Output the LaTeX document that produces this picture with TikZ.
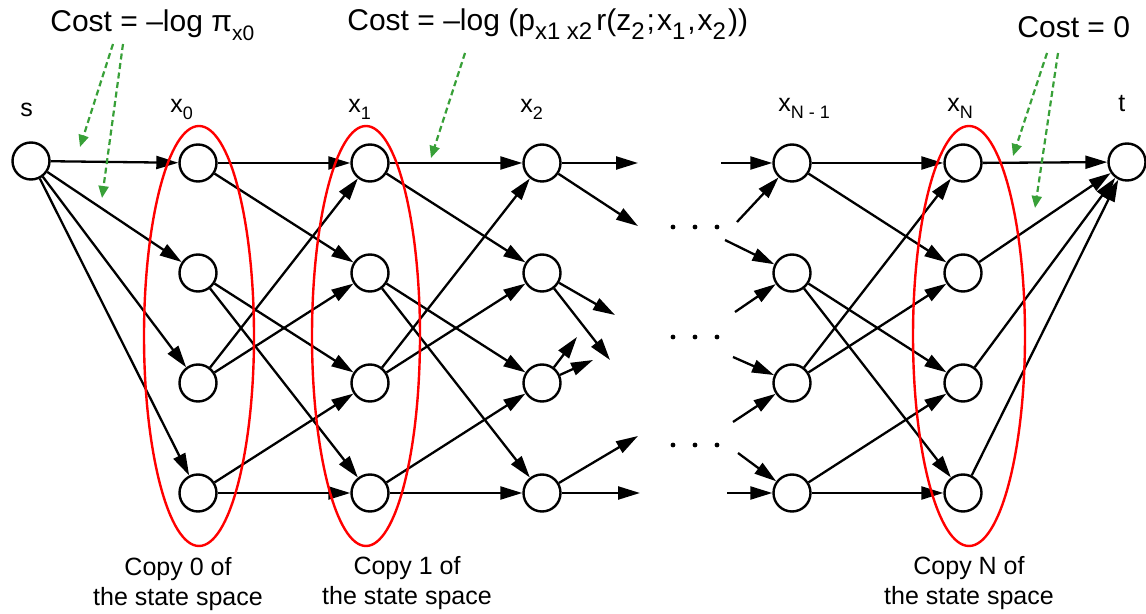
\documentclass[tikz,border=0pt]{standalone}
\usepackage{fontspec}
\setmainfont{Liberation Sans}
\usetikzlibrary{arrows.meta}
\definecolor{costgreen}{RGB}{56,160,56}
\definecolor{copyred}{RGB}{255,0,0}
% lowered, smaller text for indices
\newcommand\lo[2][9]{\raisebox{-0.28em}{\fontsize{#1}{#1}\selectfont #2}}

\begin{document}
\begin{tikzpicture}[x=0.5pt,y=-0.5pt,
  state/.style={circle, draw, line width=1.2pt, fill=white, minimum size=18.5pt, inner sep=0pt},
  edge/.style={line width=1.15pt, -{Triangle[length=11pt,width=6.5pt]}},
  copyset/.style={draw=copyred, line width=1.2pt},
  costarrow/.style={draw=costgreen, line width=1.1pt, dash pattern=on 3pt off 1.8pt,
                    -{Triangle[length=6pt,width=5pt,fill=costgreen]}},
  lbl/.style={font=\fontsize{12.5}{15}\selectfont, inner sep=0pt, anchor=base west},
  costlbl/.style={font=\fontsize{15}{18}\selectfont, inner sep=0pt, anchor=base west},
  copylbl/.style={font=\fontsize{12.5}{15}\selectfont, align=center, inner sep=0pt}
]
\useasboundingbox (0,0) rectangle (1146,614);

% states: source, copies of the state space, sink
\node[state] (s) at (31,161) {};
\foreach \col/\x in {a/198, b/370, c/542, d/792, e/963}
  \foreach \r/\y in {1/163, 2/273, 3/383, 4/493}
    \node[state] (\col\r) at (\x,\y) {};
\node[state] (t) at (1127,162) {};

% source to copy 0
\foreach \r in {1,...,4} \draw[edge] (s) -- (a\r);

% transitions between consecutive copies
\foreach \p/\q in {a/b, b/c, d/e} {
  \draw[edge] (\p1) -- (\q1);
  \draw[edge] (\p1) -- (\q2);
  \draw[edge] (\p2) -- (\q3);
  \draw[edge] (\p2) -- (\q4);
  \draw[edge] (\p3) -- (\q1);
  \draw[edge] (\p3) -- (\q2);
  \draw[edge] (\p4) -- (\q3);
  \draw[edge] (\p4) -- (\q4);
}

% copy N to sink
\foreach \r in {1,...,4} \draw[edge] (e\r) -- (t);

% outgoing stubs from x2
\coordinate (o11) at (638,163);  \coordinate (o12) at (638,226);
\coordinate (o21) at (615,315);  \coordinate (o22) at (610,360);
\coordinate (o31) at (577,337);  \coordinate (o32) at (593,360);
\coordinate (o41) at (638,436);  \coordinate (o42) at (640,493);
\foreach \r in {1,...,4} {
  \draw[edge] (c\r) -- (o\r1);
  \draw[edge] (c\r) -- (o\r2);
}

% incoming stubs into x_{N-1}
\coordinate (i11) at (721,163);  \coordinate (i12) at (737,222);
\coordinate (i21) at (725,240);  \coordinate (i22) at (735,312);
\coordinate (i31) at (733,357);  \coordinate (i32) at (733,422);
\coordinate (i41) at (738,453);  \coordinate (i42) at (727,493);
\foreach \r in {1,...,4} {
  \draw[edge] (i\r1) -- (d\r);
  \draw[edge] (i\r2) -- (d\r);
}

% ellipsis dots
\foreach \y in {227, 337, 445}
  \foreach \x in {673, 695, 717}
    \fill (\x,\y) circle[radius=1.2pt];

% copies of the state space
\draw[copyset] (199,336) ellipse [x radius=27.5pt, y radius=105pt];
\draw[copyset] (366,336) ellipse [x radius=27pt, y radius=105pt];
\draw[copyset] (969,336) ellipse [x radius=28pt, y radius=105pt];

% state labels
\node[lbl] (ls) at (20,117) {s};
\node[lbl] (la) at (170,113) {x\lo{0}};
\node[lbl] (lb) at (348,113) {x\lo{1}};
\node[lbl] (lc) at (520,113) {x\lo{2}};
\node[lbl] (ld) at (778,112) {x\lo{N - 1}};
\node[lbl] (le) at (947,112) {x\lo{N}};
\node[lbl] (lt) at (1118,112) {t};

% arc costs
\node[costlbl] (c0) at (50,32) {Cost = –log π\lo[10.5]{x0}};
\node[costlbl] (c1) at (347,31) {Cost = –log (p\lo[12]{x1 x2}\hspace{2pt}r(z\lo[12]{2}\hspace{1pt};\hspace{1pt}x\lo[12]{1}\hspace{1pt},\hspace{1pt}x\lo[12]{2}\hspace{1pt}))};
\node[costlbl] (c2) at (1017,38) {Cost = 0};

\coordinate (g1s) at (113,44);  \coordinate (g1e) at (80,147);
\coordinate (g2s) at (123,44);  \coordinate (g2e) at (102,198);
\coordinate (g3s) at (465,53);  \coordinate (g3e) at (431,158);
\coordinate (g4s) at (1047,53); \coordinate (g4e) at (1013,156);
\coordinate (g5s) at (1058,53); \coordinate (g5e) at (1035,208);
\foreach \g in {1,...,5} \draw[costarrow] (g\g s) -- (g\g e);

% copy captions
\node[copylbl] (k0) at (178,584) {Copy 0 of\\the state space};
\node[copylbl] (k1) at (407,583) {Copy 1 of\\the state space};
\node[copylbl] (kN) at (969,583) {Copy N of\\the state space};
\end{tikzpicture}
\end{document}
